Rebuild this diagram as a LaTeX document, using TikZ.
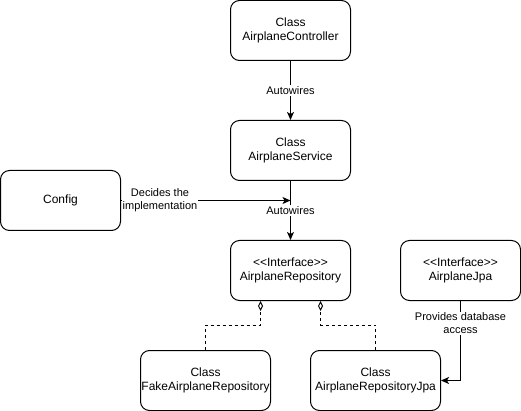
\documentclass[tikz,border=0pt]{standalone}
\usepackage{fontspec}
\setmainfont{Liberation Sans}[Ligatures=TeXOff]
\usetikzlibrary{arrows.meta}
\tikzset{
  umlbox/.style={draw, rounded corners=9pt, minimum width=120pt, minimum height=60pt,
    align=center, inner sep=0pt, line width=1pt, font=\fontsize{12}{14}\selectfont},
  wide/.style={minimum width=130pt},
  conn/.style={line width=1pt, -{Stealth[length=8pt,width=7pt,inset=2pt]}},
  impl/.style={line width=1pt, dash pattern=on 3pt off 3pt, -{Diamond[open,length=10pt,width=5pt,line width=1pt]}},
  elabel/.style={fill=white, inner sep=1pt, align=center, font=\fontsize{11}{13}\selectfont},
}
\begin{document}
\begin{tikzpicture}[x=1pt,y=-1pt]
\useasboundingbox (0,0) rectangle (521,411);
\node[umlbox] (ctrl) at (290.5,30.5) {Class\\AirplaneController};
\node[umlbox] (svc) at (290.5,150.5) {Class\\AirplaneService};
\node[umlbox] (repo) at (290.5,270.5) {<<Interface>>\\AirplaneRepository};
\node[umlbox] (cfg) at (60.5,200.5) {Config};
\node[umlbox] (jpa) at (460.5,270.5) {<<Interface>>\\AirplaneJpa};
\node[umlbox, wide] (fake) at (205.5,380.5) {Class\\FakeAirplaneRepository};
\node[umlbox, wide] (arj) at (375.5,380.5) {Class\\AirplaneRepositoryJpa};
\coordinate (join) at (290.5,200.5);

\draw[conn] (ctrl) -- node[elabel, pos=0.5] {Autowires} (svc);
\draw[conn] (svc) -- node[elabel, pos=0.5] {Autowires} (repo);
\draw[conn] (cfg.east) -- node[elabel, pos=0.23] {Decides the\\implementation} (join);
\draw[conn] (jpa.south) |- node[elabel, pos=0.14] {Provides database\\access} (arj.east);
\draw[impl] (fake.north) -- ++(0,-25) -| ([xshift=-30pt]repo.south);
\draw[impl] (arj.north) -- ++(0,-25) -| ([xshift=30pt]repo.south);
\end{tikzpicture}
\end{document}
